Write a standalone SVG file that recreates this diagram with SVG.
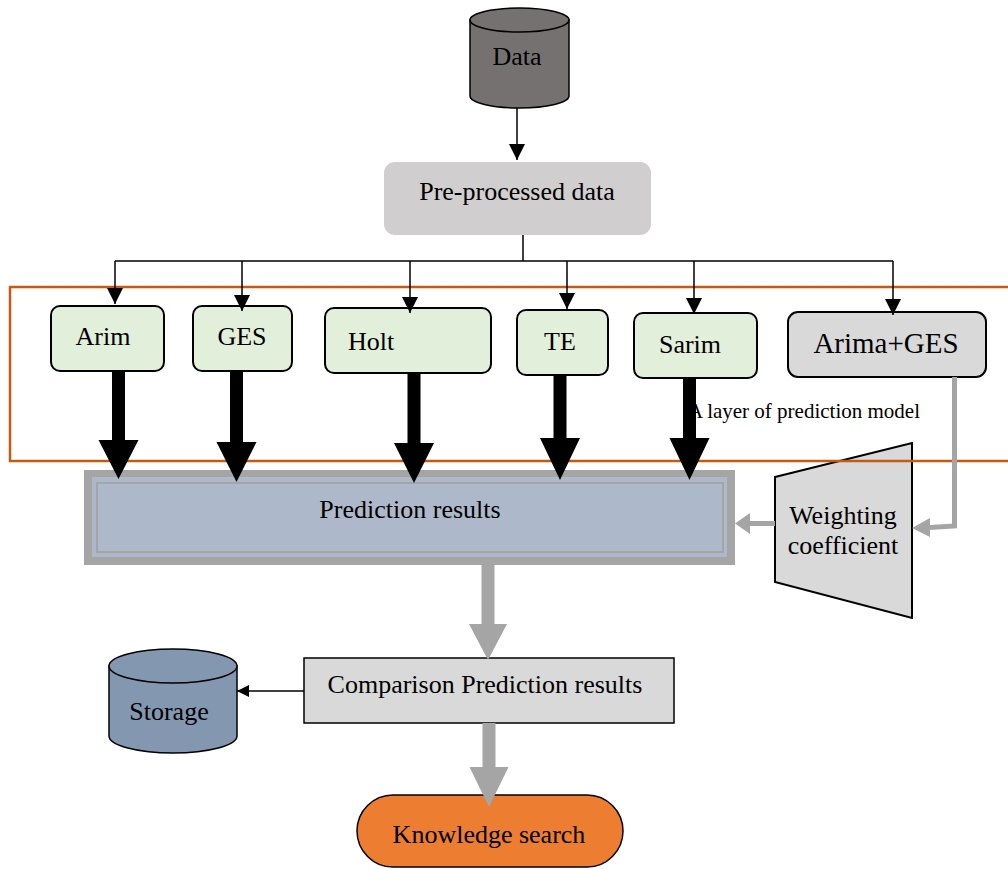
<svg xmlns="http://www.w3.org/2000/svg" width="1008" height="869" viewBox="0 0 1008 869">
<style>
text{font-family:"Liberation Serif","Times New Roman",serif;fill:#000;}
.t{font-size:26px;text-anchor:middle;}
.green{fill:#e2efda;stroke:#000;stroke-width:2;}
.thin{stroke:#000;stroke-width:1.5;fill:none;}
.blk{fill:#000;}
.gry{fill:#a5a5a5;}
</style>
<defs>
<marker id="ah" markerUnits="userSpaceOnUse" markerWidth="18" markerHeight="18" refX="16" refY="8" orient="auto">
<path d="M0,0 L16,8 L0,16 z" fill="#000"/>
</marker>
<marker id="ahs" markerUnits="userSpaceOnUse" markerWidth="14" markerHeight="14" refX="12" refY="6" orient="auto">
<path d="M0,0 L12,6 L0,12 z" fill="#000"/>
</marker>
</defs>

<g id="weighting">
<polygon points="775,477 912,443 912,618 775,582" fill="#d9d9d9" stroke="#000" stroke-width="2"/>
<text class="t" x="843" y="524">Weighting</text>
<text class="t" x="843" y="554">coefficient</text>
</g>

<g id="prediction-results">
<rect x="84" y="470" width="651" height="95" fill="#a5a5a5"/>
<rect x="92" y="477" width="635" height="80" fill="#adb9ca"/>
<rect x="97" y="483" width="626" height="69" fill="#adb9ca" stroke="#a5a5a5" stroke-width="2"/>
<text class="t" x="410" y="518">Prediction results</text>
</g>

<g id="layer">
<rect x="10" y="287" width="1010" height="174" fill="none" stroke="#c55a11" stroke-width="2.5"/>
<text x="920" y="418" style="font-size:21px;text-anchor:end">A layer of prediction model</text>
</g>

<g id="data">
<path d="M470,20 L470,96 A49.5,12 0 0 0 569,96 L569,20 Z" fill="#767171" stroke="#000" stroke-width="1.5"/>
<ellipse cx="519.5" cy="20" rx="49.5" ry="12" fill="#767171" stroke="#000" stroke-width="1.5"/>
<text class="t" x="517" y="65">Data</text>
</g>

<g id="preprocessed">
<rect x="384" y="162" width="267" height="73" rx="11" fill="#d0cece"/>
<text class="t" x="517" y="200">Pre-processed data</text>
</g>

<g id="arim">
<rect class="green" x="51" y="306" width="113" height="65" rx="9"/>
<text class="t" x="103" y="345">Arim</text>
</g>
<g id="ges">
<rect class="green" x="193" y="306" width="99" height="65" rx="9"/>
<text class="t" x="242" y="345">GES</text>
</g>
<g id="holt">
<rect class="green" x="325" y="308" width="166" height="65" rx="9"/>
<text x="348" y="350" style="font-size:26px">Holt</text>
</g>
<g id="te">
<rect class="green" x="517" y="310" width="91" height="65" rx="9"/>
<text class="t" x="560" y="350">TE</text>
</g>
<g id="sarim">
<rect class="green" x="634" y="313" width="123" height="65" rx="9"/>
<text class="t" x="690" y="353">Sarim</text>
</g>
<g id="arima-ges">
<rect x="788" y="312" width="198" height="65" rx="10" fill="#d9d9d9" stroke="#000" stroke-width="2"/>
<text x="886" y="353" style="font-size:29px;text-anchor:middle">Arima+GES</text>
</g>

<g id="comparison">
<rect x="304" y="658" width="370" height="65" fill="#d9d9d9" stroke="#000" stroke-width="1.5"/>
<text class="t" x="485" y="693">Comparison Prediction results</text>
</g>

<g id="storage">
<path d="M109,666 L109,736 A64,17 0 0 0 237,736 L237,666 Z" fill="#8497b0" stroke="#000" stroke-width="1.5"/>
<ellipse cx="173" cy="666" rx="64" ry="17" fill="#8497b0" stroke="#000" stroke-width="1.5"/>
<text class="t" x="169" y="720">Storage</text>
</g>

<g id="knowledge">
<rect x="357" y="795" width="266" height="72" rx="36" fill="#ed7d31" stroke="#000" stroke-width="1.5"/>
<text class="t" x="489" y="843">Knowledge search</text>
</g>

<g id="connectors">
<line class="thin" x1="517" y1="108" x2="517" y2="160" marker-end="url(#ah)"/>
<line class="thin" x1="523" y1="235" x2="523" y2="261"/>
<line class="thin" x1="115" y1="261" x2="893" y2="261"/>
<line class="thin" x1="115" y1="261" x2="115" y2="304" marker-end="url(#ah)"/>
<line class="thin" x1="242" y1="261" x2="242" y2="311" marker-end="url(#ah)"/>
<line class="thin" x1="410" y1="261" x2="410" y2="313" marker-end="url(#ah)"/>
<line class="thin" x1="567" y1="261" x2="567" y2="309" marker-end="url(#ah)"/>
<line class="thin" x1="694" y1="261" x2="694" y2="314" marker-end="url(#ah)"/>
<line class="thin" x1="893" y1="261" x2="893" y2="315" marker-end="url(#ah)"/>
<line class="thin" x1="304" y1="691" x2="237" y2="691" marker-end="url(#ahs)"/>

<polygon class="blk" points="112,371 125,371 125,440 138.5,440 118.5,479 98.5,440 112,440"/>
<polygon class="blk" points="230,371 243,371 243,442 256.5,442 236.5,482 216.5,442 230,442"/>
<polygon class="blk" points="407.5,373 420.5,373 420.5,443 434,443 414,483 394,443 407.5,443"/>
<polygon class="blk" points="553.5,375 566.5,375 566.5,438 580,438 560,480 540,438 553.5,438"/>
<polygon class="blk" points="683,378 696,378 696,438 709.5,438 689.5,480 669.5,438 683,438"/>

<polygon class="gry" points="481.5,565 494.5,565 494.5,624 507,624 488,660 469,624 481.5,624"/>
<polygon class="gry" points="482.5,723 495.5,723 495.5,767 508.5,767 489,807 469.5,767 482.5,767"/>

<polygon class="gry" points="775,521 750,521 750,513 735,523.5 750,534 750,526 775,526"/>
<polyline points="954.5,377 954.5,526 930,527.5" fill="none" stroke="#a5a5a5" stroke-width="5"/>
<polygon class="gry" points="930,518 912,528 930,537"/>
</g>
</svg>
